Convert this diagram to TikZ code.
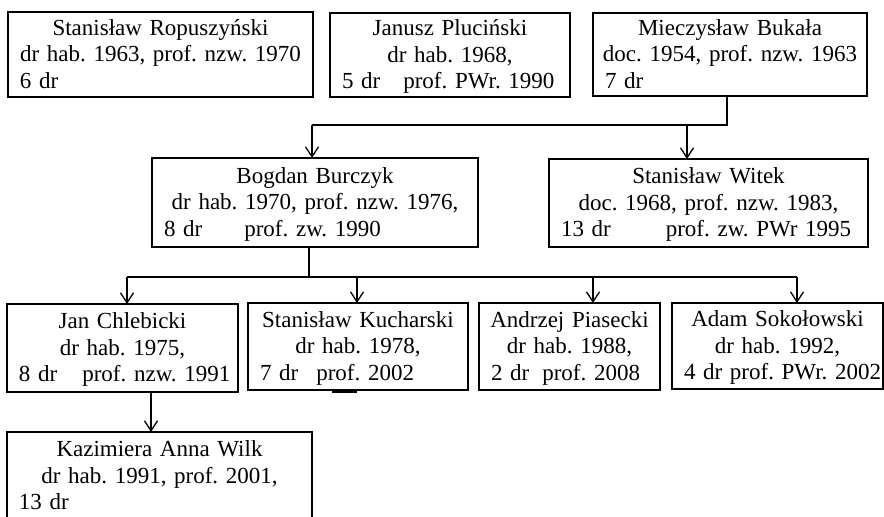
\documentclass[tikz,border=0pt]{standalone}
\usepackage{fontspec}
\setmainfont{Liberation Serif}
\usetikzlibrary{arrows.meta}
\frenchspacing

\begin{document}
\begin{tikzpicture}[x=1pt,y=-1pt,
    box/.style={draw,line width=2,rectangle,anchor=north west,outer sep=0,
      inner xsep=8,inner ysep=0,align=center,font=\fontsize{23}{26.5}\selectfont\frenchspacing},
    link/.style={line width=1.3},
    arr/.style={link,-{Straight Barb[length=10,width=13]}}]

    \def\tstrut{\rule[-6pt]{0pt}{26pt}}
    \def\lft#1{\makebox[\linewidth][l]{\hspace*{4pt}#1\tstrut}}

    \useasboundingbox (0,0) rectangle (884,517);

    % top row
    \node[box,minimum width=305,minimum height=85,text width=289] (ropuszynski) at (8,12)
      {\tstrut Stanisław Ropuszyński\\ dr hab. 1963, prof. nzw. 1970\\ \lft{6 dr}};
    \node[box,minimum width=240,minimum height=84,text width=224] (plucinski) at (330,13)
      {\tstrut Janusz Pluciński\\ dr hab. 1968,\\ \lft{5 dr\hspace{23pt}prof. PWr. 1990}};
    \node[box,minimum width=274,minimum height=83,text width=258] (bukala) at (593,13)
      {\tstrut Mieczysław Bukała\\ doc. 1954, prof. nzw. 1963\\ \lft{7 dr}};

    % middle row
    \node[box,minimum width=326,minimum height=89,text width=310] (burczyk) at (152,158)
      {\tstrut Bogdan Burczyk\\ dr hab. 1970, prof. nzw. 1976,\\ \lft{8 dr\hspace{42pt}prof. zw. 1990}};
    \node[box,minimum width=319,minimum height=88,text width=303] (witek) at (549,159)
      {\tstrut Stanisław Witek\\ doc. 1968, prof. nzw. 1983,\\ \lft{13 dr\hspace{55pt}prof. zw. PWr 1995}};

    % bottom rows
    \node[box,minimum width=231,minimum height=88,text width=215] (chlebicki) at (7,304)
      {\tstrut Jan Chlebicki\\ dr hab. 1975,\\ \lft{8 dr\hspace{25pt}prof. nzw. 1991}};
    \node[box,minimum width=220,minimum height=87,text width=204] (kucharski) at (248,303)
      {\tstrut Stanisław Kucharski\\ dr hab. 1978,\\ \lft{7 dr\hspace{18pt}prof. 2002}};
    \node[box,minimum width=181,minimum height=87,text width=165] (piasecki) at (479,303)
      {\tstrut Andrzej Piasecki\\ dr hab. 1988,\\ \lft{2 dr\hspace{13pt}prof. 2008}};
    \node[box,minimum width=211,minimum height=86,text width=195] (sokolowski) at (672,303)
      {\tstrut Adam Sokołowski\\ dr hab. 1992,\\ \lft{4 dr prof. PWr. 2002}};
    \node[box,minimum width=305,minimum height=88,text width=289] (wilk) at (7,432)
      {\tstrut Kazimiera Anna Wilk\\ dr hab. 1991, prof. 2001,\\ \lft{13 dr}};

    \draw[line width=3] ([xshift=84,yshift=-1]kucharski.south west) -- ++(25,0);

    % rails
    \coordinate (r1a) at (312,125);
    \coordinate (r1b) at (687,125);
    \coordinate (r1c) at (727,125);
    \coordinate (r2a) at (127,277);
    \coordinate (r2b) at (357,277);
    \coordinate (r2c) at (593,277);
    \coordinate (r2d) at (797,277);
    \coordinate (r2e) at (309,277);
    \coordinate (r3) at (151,0);

    \draw[link] (r1c |- bukala.south) -- (r1c) -- (r1a);
    \draw[arr] (r1a) -- (r1a |- burczyk.north);
    \draw[arr] (r1b) -- (r1b |- witek.north);

    \draw[link] (r2e |- burczyk.south) -- (r2e);
    \draw[link] (r2a) -- (r2d);
    \foreach \t/\n in {r2a/chlebicki,r2b/kucharski,r2c/piasecki,r2d/sokolowski}
      \draw[arr] (\t) -- (\t |- \n.north);

    \draw[arr] (r3 |- chlebicki.south) -- (r3 |- wilk.north);

\end{tikzpicture}
\end{document}
